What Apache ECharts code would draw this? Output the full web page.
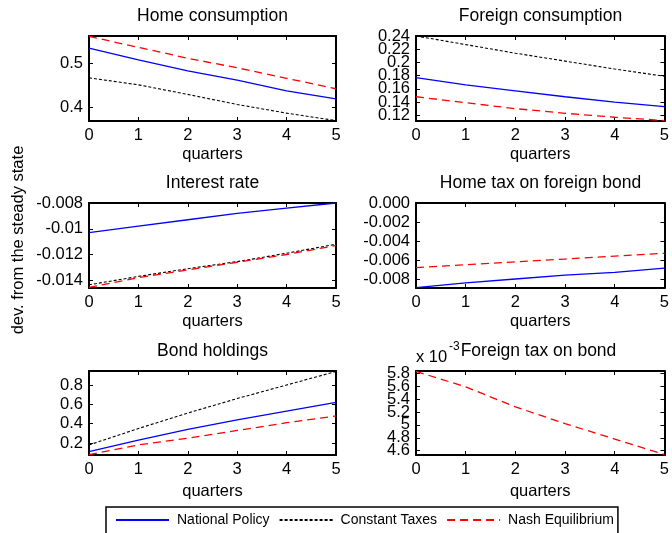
<!DOCTYPE html>
<html><head><meta charset="utf-8">
<script src="https://cdn.jsdelivr.net/npm/echarts@6/dist/echarts.min.js"></script>
<style>html,body{margin:0;padding:0;background:#fff}#c{width:672px;height:533px}</style>
</head><body><div id="c"></div>
<script>
// ---------- data ----------
const quarters = [0, 1, 2, 3, 4, 5];
const seriesNames = ['National Policy', 'Constant Taxes', 'Nash Equilibrium'];
const panelTitles = ['Home consumption', 'Foreign consumption', 'Interest rate',
  'Home tax on foreign bond', 'Bond holdings', 'Foreign tax on bond'];

// Home consumption
const homeCons_NP = [0.535, 0.508, 0.483, 0.462, 0.437, 0.419];
const homeCons_CT = [0.467, 0.451, 0.429, 0.406, 0.386, 0.369];
const homeCons_NE = [0.562, 0.537, 0.512, 0.490, 0.466, 0.442];
// Foreign consumption
const forCons_NP = [0.177, 0.166, 0.157, 0.148, 0.140, 0.133];
const forCons_CT = [0.240, 0.227, 0.214, 0.202, 0.190, 0.179];
const forCons_NE = [0.148, 0.139, 0.130, 0.123, 0.117, 0.112];
// Interest rate
const rate_NP = [-0.0103, -0.0098, -0.0093, -0.0088, -0.0084, -0.0080];
const rate_CT = [-0.01435, -0.0137, -0.0131, -0.01255, -0.0119, -0.0112];
const rate_NE = [-0.01455, -0.0138, -0.0132, -0.0126, -0.0120, -0.0113];
// Home tax on foreign bond
const homeTax_NP = [-0.0089, -0.0084, -0.0080, -0.0076, -0.0073, -0.00685];
const homeTax_NE = [-0.0068, -0.0065, -0.0062, -0.0059, -0.0056, -0.0053];
// Bond holdings
const bond_NP = [0.11, 0.23, 0.34, 0.44, 0.53, 0.62];
const bond_CT = [0.18, 0.35, 0.51, 0.66, 0.80, 0.94];
const bond_NE = [0.08, 0.18, 0.25, 0.33, 0.41, 0.48];
// Foreign tax on bond
const forTax_NE = [0.00583, 0.00559, 0.00528, 0.00502, 0.00478, 0.00454];

// axis ranges and tick values
const yMins = [0.368, 0.1113, -0.0146, -0.00895, 0.076, 0.004533];
const yMaxs = [0.563, 0.240, -0.0080, 0.0, 0.945, 0.005836];
const yTicks = [
  [0.4, 0.5],
  [0.12, 0.14, 0.16, 0.18, 0.20, 0.22, 0.24],
  [-0.014, -0.012, -0.010, -0.008],
  [-0.008, -0.006, -0.004, -0.002, 0.0],
  [0.2, 0.4, 0.6, 0.8],
  [0.0046, 0.0048, 0.0050, 0.0052, 0.0054, 0.0056, 0.0058]
];
const yTickLabels = [
  ['0.4', '0.5'],
  ['0.12', '0.14', '0.16', '0.18', '0.2', '0.22', '0.24'],
  ['-0.014', '-0.012', '-0.01', '-0.008'],
  ['-0.008', '-0.006', '-0.004', '-0.002', '0.000'],
  ['0.2', '0.4', '0.6', '0.8'],
  ['4.6', '4.8', '5', '5.2', '5.4', '5.6', '5.8']
];

// ---------- layout ----------
const FONT = "'Liberation Sans', Arial, Helvetica, sans-serif";
const grids = [
  {left: 89, top: 36, width: 247, height: 85},
  {left: 416, top: 36, width: 249, height: 85},
  {left: 89, top: 203, width: 247, height: 85},
  {left: 416, top: 203, width: 249, height: 85},
  {left: 89, top: 371, width: 247, height: 84},
  {left: 416, top: 371, width: 249, height: 84}
];
const nameGaps = [25, 25, 25, 25, 28, 28];
const axisLine = {show: true, onZero: false, lineStyle: {color: '#000', width: 2}};
const tick = {show: true, inside: true, length: 4, lineStyle: {color: '#000', width: 1}};
const labelBase = {color: '#000', fontSize: 16.5, fontFamily: FONT, margin: 6,
  showMinLabel: true, showMaxLabel: true, hideOverlap: false};

const xAxes = [], yAxes = [], mainY = [];
grids.forEach((g, i) => {
  xAxes.push({type: 'value', gridIndex: i, min: 0, max: 5, interval: 1, position: 'bottom',
    axisLine, axisTick: tick, splitLine: {show: false},
    axisLabel: Object.assign({}, labelBase),
    name: 'quarters', nameLocation: 'middle', nameGap: nameGaps[i],
    nameTextStyle: {color: '#000', fontSize: 16.5, fontFamily: FONT}});
  xAxes.push({type: 'value', gridIndex: i, min: 0, max: 5, interval: 1, position: 'top',
    axisLine, axisTick: tick, splitLine: {show: false}, axisLabel: {show: false}});
  const tv = yTicks[i], tl = yTickLabels[i];
  const fmt = v => { let k = tv.findIndex(t => Math.abs(t - v) < 1e-9); return k >= 0 ? tl[k] : ''; };
  const evenVals = tv.filter((_, k) => k % 2 === 0);
  const oddVals = tv.filter((_, k) => k % 2 === 1);
  mainY.push(yAxes.length);
  // main left axis: line, ticks, even labels
  yAxes.push({type: 'value', gridIndex: i, min: yMins[i], max: yMaxs[i], position: 'left',
    axisLine, splitLine: {show: false},
    axisTick: Object.assign({}, tick, {customValues: tv}),
    axisLabel: Object.assign({}, labelBase, {customValues: evenVals, formatter: fmt})});
  // right mirror axis
  yAxes.push({type: 'value', gridIndex: i, min: yMins[i], max: yMaxs[i], position: 'right',
    axisLine, splitLine: {show: false},
    axisTick: Object.assign({}, tick, {customValues: tv}),
    axisLabel: {show: false}});
  // second left axis carrying the odd labels (same scale)
  if (oddVals.length) {
    yAxes.push({type: 'value', gridIndex: i, min: yMins[i], max: yMaxs[i], position: 'left',
      offset: 0, axisLine: {show: false}, axisTick: {show: false}, splitLine: {show: false},
      axisLabel: Object.assign({}, labelBase, {customValues: oddVals, formatter: fmt})});
  }
});

const styles = {
  'National Policy': {color: '#0000ff', width: 1.3, type: 'solid'},
  'Constant Taxes': {color: '#000000', width: 1.1, type: [3, 2]},
  'Nash Equilibrium': {color: '#ff0000', width: 1.3, type: [8, 5]}
};
const panelData = [
  [['National Policy', homeCons_NP], ['Constant Taxes', homeCons_CT], ['Nash Equilibrium', homeCons_NE]],
  [['National Policy', forCons_NP], ['Constant Taxes', forCons_CT], ['Nash Equilibrium', forCons_NE]],
  [['National Policy', rate_NP], ['Constant Taxes', rate_CT], ['Nash Equilibrium', rate_NE]],
  [['National Policy', homeTax_NP], ['Nash Equilibrium', homeTax_NE]],
  [['National Policy', bond_NP], ['Constant Taxes', bond_CT], ['Nash Equilibrium', bond_NE]],
  [['Nash Equilibrium', forTax_NE]]
];
const series = [];
panelData.forEach((list, i) => {
  list.forEach(([name, vals]) => {
    const st = styles[name];
    series.push({type: 'line', name, xAxisIndex: 2 * i, yAxisIndex: mainY[i],
      data: quarters.map((q, k) => [q, vals[k]]), symbol: 'none', silent: true,
      animation: false, clip: true, color: st.color,
      lineStyle: {color: st.color, width: st.width, type: st.type}});
  });
});

const graphics = [];
grids.forEach((g, i) => {
  graphics.push({type: 'text', x: g.left + g.width / 2 - (i === 5 ? 2 : 0), y: g.top - 20,
    style: {text: panelTitles[i], fontSize: 17.5, fontFamily: FONT, fill: '#000',
      textAlign: 'center', textVerticalAlign: 'middle'}});
});
graphics.push({type: 'text', x: 416, y: 357, style: {text: 'x 10', fontSize: 16.5, fontFamily: FONT,
  fill: '#000', textAlign: 'left', textVerticalAlign: 'middle'}});
graphics.push({type: 'text', x: 449, y: 347, style: {text: '-3', fontSize: 12, fontFamily: FONT,
  fill: '#000', textAlign: 'left', textVerticalAlign: 'middle'}});
graphics.push({type: 'text', x: 18, y: 240, rotation: Math.PI / 2,
  style: {text: 'dev. from the steady state', fontSize: 16.5, fontFamily: FONT, fill: '#000',
    textAlign: 'center', textVerticalAlign: 'middle'}});

const chart = echarts.init(document.getElementById('c'), null, {renderer: 'canvas'});
chart.setOption({
  animation: false,
  backgroundColor: '#fff',
  grid: grids,
  xAxis: xAxes,
  yAxis: yAxes,
  series,
  legend: {data: seriesNames, left: 106, top: 507, orient: 'horizontal',
    itemWidth: 53, itemHeight: 14, itemGap: 9, padding: [6, 4, 8, 9],
    borderColor: '#000', borderWidth: 1.5, backgroundColor: '#fff',
    selectedMode: false,
    itemStyle: {opacity: 0},
    textStyle: {color: '#000', fontSize: 14, fontFamily: FONT, padding: [0, 0, 0, 3]}},
  graphic: graphics
});
</script></body></html>
